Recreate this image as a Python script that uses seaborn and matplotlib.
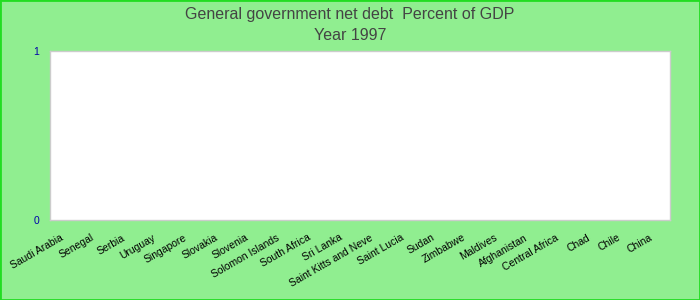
import matplotlib
matplotlib.use("Agg")
import matplotlib.pyplot as plt
import matplotlib.transforms as mtransforms
import seaborn as sns
import pandas as pd
from matplotlib.patches import Rectangle

countries = ["Saudi Arabia", "Senegal", "Serbia", "Uruguay", "Singapore", "Slovakia",
             "Slovenia", "Solomon Islands", "South Africa", "Sri Lanka",
             "Saint Kitts and Neve", "Saint Lucia", "Sudan", "Zimbabwe", "Maldives",
             "Afghanistan", "Central Africa", "Chad", "Chile", "China"]
values = [0] * len(countries)
yticks = [0, 1]

sns.set_theme(style="white")
plt.rcParams['font.family'] = ['Liberation Sans', 'DejaVu Sans']

df = pd.DataFrame({"country": countries, "value": values})

fig = plt.figure(figsize=(7, 3), dpi=100, facecolor="#90EE90")
ax = fig.add_axes([50/700, 1 - 220/300, 620/700, 169/300])
ax.set_facecolor("white")
sns.barplot(data=df, x="country", y="value", ax=ax, color="#4472c4")
ax.set_ylim(0, 1)
ax.set_yticks(yticks)
ax.set_yticklabels([str(t) for t in yticks], color="#0000aa", fontsize=7.5)
ax.set_xlabel("")
ax.set_ylabel("")
ax.tick_params(axis="both", length=0, pad=8)
ax.tick_params(axis="x", pad=4)
offset = mtransforms.ScaledTranslation(-6/100, -7/100, fig.dpi_scale_trans)
for lbl in ax.get_xticklabels():
    lbl.set_rotation(30)
    lbl.set_ha("right")
    lbl.set_rotation_mode("anchor")
    lbl.set_fontsize(7.5)
    lbl.set_color("black")
    lbl.set_transform(lbl.get_transform() + offset)
for s in ax.spines.values():
    s.set_color("#cccccc")
    s.set_linewidth(1)

fig.text(0.5, 1 - 15/300, "General government net debt  Percent of GDP",
         ha="center", va="center", fontsize=11.5, color="#444444")
fig.text(0.5, 1 - 36/300, "Year 1997", ha="center", va="center",
         fontsize=11.5, color="#444444")
fig.patches.append(Rectangle((0, 0), 1, 1, transform=fig.transFigure,
                             fill=False, edgecolor="#22dd22", linewidth=2))
fig.savefig("out.png", dpi=100, facecolor=fig.get_facecolor())
